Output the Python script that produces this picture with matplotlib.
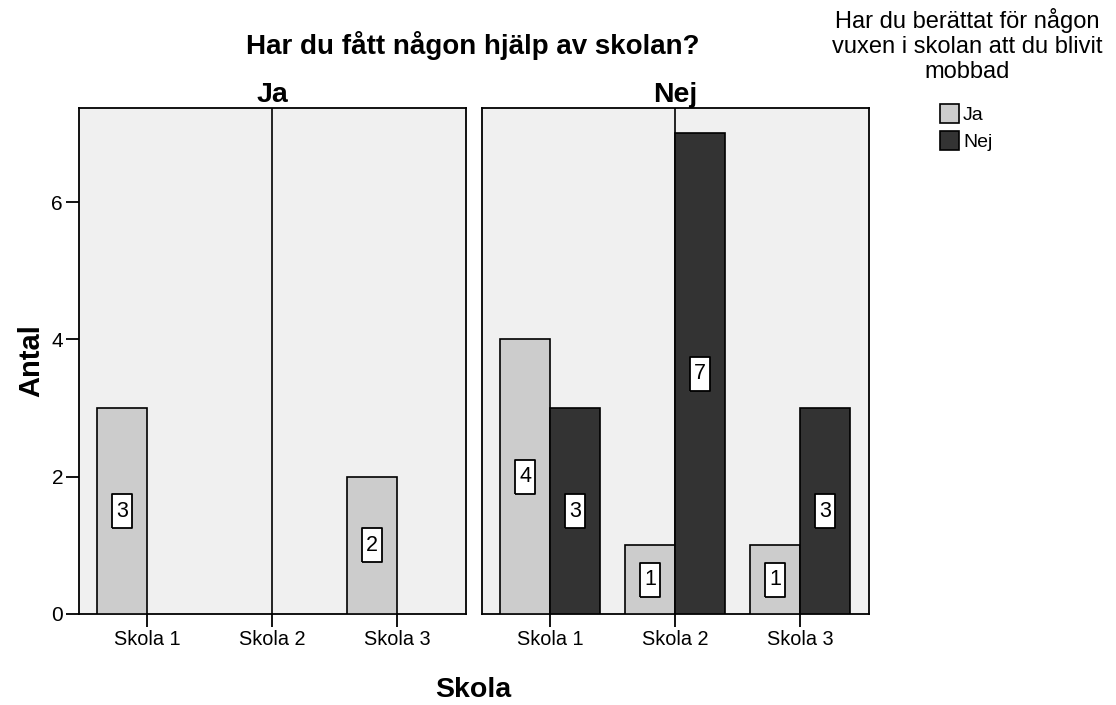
import numpy as np
import matplotlib.pyplot as plt
from matplotlib.patches import Patch

plt.rcParams['font.family'] = ['Liberation Sans', 'DejaVu Sans']

schools = ['Skola 1', 'Skola 2', 'Skola 3']
panels = ['Ja', 'Nej']
# counts per panel (fått hjälp), split by "berättat för vuxen" Ja / Nej
told_ja = {'Ja': [3, 0, 2], 'Nej': [4, 1, 1]}
told_nej = {'Ja': [0, 0, 0], 'Nej': [3, 7, 3]}

col_ja = '#cccccc'
col_nej = '#333333'
bg = '#f0f0f0'

fig = plt.figure(figsize=(11.16, 7.05), dpi=100)
axes = [fig.add_axes([0.0708, 0.1291, 0.3468, 0.7177]),
        fig.add_axes([0.4319, 0.1291, 0.3468, 0.7177])]

x = np.arange(len(schools))
w = 0.4

# tall narrow box used behind the value labels
box = [(-0.29, -0.5), (0.29, -0.5), (0.29, 0.5), (-0.29, 0.5), (-0.29, -0.5)]

def label(ax, xc, h):
    if h > 0:
        ax.plot(xc, h / 2, marker=box, ms=25, mfc='white', mec='black', mew=1.3,
                zorder=5, clip_on=False)
        ax.text(xc, h / 2, str(h), ha='center', va='center', fontsize=15.5, zorder=6)

for ax, p in zip(axes, panels):
    ax.set_facecolor(bg)
    ax.axvline(x[1], color='black', lw=1.2, zorder=1)
    a = np.array(told_ja[p])
    b = np.array(told_nej[p])
    for i in range(len(schools)):
        if a[i] > 0:
            ax.bar(x[i] - w / 2, a[i], w, color=col_ja, edgecolor='black', lw=1.2, zorder=3)
        if b[i] > 0:
            ax.bar(x[i] + w / 2, b[i], w, color=col_nej, edgecolor='black', lw=1.2, zorder=3)
        label(ax, x[i] - w / 2, int(a[i]))
        label(ax, x[i] + w / 2, int(b[i]))
    ax.set_xlim(-0.545, 2.55)
    ax.set_ylim(0, 7.37)
    ax.set_xticks(x)
    ax.set_xticklabels(schools)
    ax.set_title(p, fontsize=20.5, fontweight='bold', pad=1)
    for s in ax.spines.values():
        s.set_linewidth(1.3)
    ax.tick_params(direction='out', length=9.5, width=1.3, pad=2, labelsize=14.3)

axes[0].set_yticks([0, 2, 4, 6])
axes[0].tick_params(axis='y', labelsize=15)
axes[1].tick_params(axis='y', left=False, labelleft=False)
axes[0].set_ylabel('Antal', fontsize=21, fontweight='bold', labelpad=4)

fig.text(0.424, 0.935, 'Har du fått någon hjälp av skolan?', ha='center', va='center',
         fontsize=20, fontweight='bold')
fig.text(0.424, 0.021, 'Skola', ha='center', va='center', fontsize=20.5, fontweight='bold')

fig.text(0.867, 0.988, 'Har du berättat för någon\nvuxen i skolan att du blivit\nmobbad',
         ha='center', va='top', fontsize=17, linespacing=1.15)
fig.legend(handles=[Patch(fc=col_ja, ec='black', lw=1.2, label='Ja'),
                    Patch(fc=col_nej, ec='black', lw=1.2, label='Nej')],
           loc='upper left', bbox_to_anchor=(0.842, 0.852), frameon=False,
           fontsize=14, handlelength=1.0, handleheight=1.1, handletextpad=0.2,
           labelspacing=0.35, borderpad=0, borderaxespad=0)

fig.savefig('out.png', dpi=100)
